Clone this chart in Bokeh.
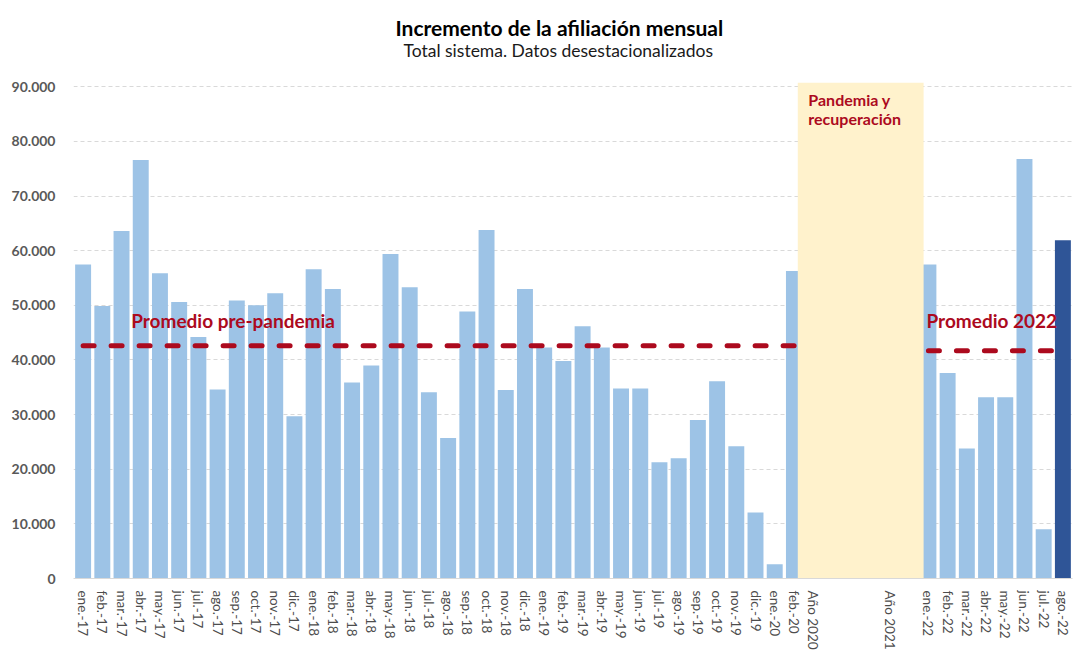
from bokeh.plotting import figure
from bokeh.models import FactorRange, Range1d, FixedTicker, Label, Title
from bokeh.embed import file_html
from bokeh.resources import INLINE

# ---- data ----
months_pre = ["ene.-17", "feb.-17", "mar.-17", "abr.-17", "may.-17", "jun.-17", "jul.-17",
              "ago.-17", "sep.-17", "oct.-17", "nov.-17", "dic.-17",
              "ene.-18", "feb.-18", "mar.-18", "abr.-18", "may.-18", "jun.-18", "jul.-18",
              "ago.-18", "sep.-18", "oct.-18", "nov.-18", "dic.-18",
              "ene.-19", "feb.-19", "mar.-19", "abr.-19", "may.-19", "jun.-19", "jul.-19",
              "ago.-19", "sep.-19", "oct.-19", "nov.-19", "dic.-19",
              "ene.-20", "feb.-20"]
values_pre = [57500, 49900, 63600, 76600, 55900, 50600, 44200, 34600, 50900, 50000, 52200, 29700,
              56600, 53000, 35900, 39000, 59400, 53300, 34100, 25700, 48900, 63800, 34500, 53000,
              42300, 39800, 46200, 42300, 34800, 34800, 21300, 22000, 29000, 36100, 24200, 12100,
              2600, 56300]
pandemic_labels = ["Año 2020", " ", "  ", "   ", "Año 2021", "    "]
months_2022 = ["ene.-22", "feb.-22", "mar.-22", "abr.-22", "may.-22", "jun.-22", "jul.-22", "ago.-22"]
values_2022 = [57500, 37600, 23800, 33200, 33200, 76800, 9000, 61900]
avg_pre = 42600
avg_2022 = 41700
y_ticks = [0, 10000, 20000, 30000, 40000, 50000, 60000, 70000, 80000, 90000]
y_tick_labels = ["0", "10.000", "20.000", "30.000", "40.000", "50.000",
                 "60.000", "70.000", "80.000", "90.000"]
title_text = "Incremento de la afiliación mensual"
subtitle_text = "Total sistema. Datos desestacionalizados"

factors = months_pre + pandemic_labels + months_2022
Y_END = 90800

RED = "#AC0A1E"
LIGHT = "#9DC3E6"
DARK = "#2F5597"
FONT = "Lato"

def pos(f):
    return factors.index(f) + 0.5

p = figure(x_range=FactorRange(factors=factors, range_padding=0, factor_padding=0),
           y_range=Range1d(0, Y_END),
           width=1082, height=652, output_backend="svg", toolbar_location=None,
           min_border_left=73, min_border_right=10, min_border_top=0,
           min_border_bottom=74)
p.outline_line_color = None
p.background_fill_color = "white"

# titles: first added sits closest to the plot
p.add_layout(Title(text=" ", text_font=FONT, text_font_size="10px", standoff=6), "above")
p.add_layout(Title(text=subtitle_text, align="left", vertical_align="top", offset=330,
                   text_font=FONT, text_font_size="17.5px", text_font_style="normal",
                   text_color="#1a1a1a", standoff=0), "above")
p.add_layout(Title(text=title_text, align="left", vertical_align="bottom", offset=322,
                   text_font=FONT, text_font_size="21px", text_font_style="bold",
                   text_color="#000000", standoff=0), "above")
p.add_layout(Title(text=" ", text_font=FONT, text_font_size="6px", standoff=3), "above")

# bars
light_x = months_pre + months_2022[:-1]
light_y = values_pre + values_2022[:-1]
p.vbar(x=light_x, top=light_y, width=0.83, color=LIGHT, line_color=None)

# average lines
p.line(x=[pos(months_pre[0]), pos(pandemic_labels[0])], y=[avg_pre, avg_pre],
       line_color=RED, line_width=5, line_dash="11 17", line_cap="round")
p.line(x=[pos(months_2022[0]), pos(months_2022[-1])], y=[avg_2022, avg_2022],
       line_color=RED, line_width=5, line_dash="11 17", line_cap="round")

# highlighted last bar
p.vbar(x=[months_2022[-1]], top=[values_2022[-1]], width=0.83, color=DARK, line_color=None)

# pandemic shade
p.quad(left=[pos(months_pre[-1]) + 0.2], right=[pos(months_2022[0]) - 0.25],
       bottom=[0], top=[Y_END], color="#FFF2CC", line_color=None)

p.add_layout(Label(x=pos(months_pre[-1]) + 0.75, y=Y_END - 1300, text="Pandemia y\nrecuperación",
                   text_font=FONT, text_font_size="16px", text_font_style="bold",
                   text_color=RED, text_baseline="top", text_align="left", text_line_height=1.0))
p.add_layout(Label(x=3.0, y=avg_pre + 4700, text="Promedio pre-pandemia",
                   text_font=FONT, text_font_size="19px", text_font_style="bold",
                   text_color=RED, text_baseline="middle", text_align="left"))
p.add_layout(Label(x=pos(months_2022[0]) - 0.1, y=avg_2022 + 5600, text="Promedio 2022",
                   text_font=FONT, text_font_size="19px", text_font_style="bold",
                   text_color=RED, text_baseline="middle", text_align="left"))

# axes
p.yaxis.ticker = FixedTicker(ticks=y_ticks)
p.yaxis.major_label_overrides = {t: l for t, l in zip(y_ticks, y_tick_labels)}
p.yaxis.axis_line_color = None
p.yaxis.major_tick_line_color = None
p.yaxis.minor_tick_line_color = None
p.yaxis.major_label_standoff = 12
p.yaxis.major_label_text_font = FONT
p.yaxis.major_label_text_font_size = "14px"
p.yaxis.major_label_text_font_style = "bold"
p.yaxis.major_label_text_color = "#595959"

p.xaxis.axis_line_color = "#D9D9D9"
p.xaxis.major_tick_line_color = None
p.xaxis.minor_tick_line_color = None
p.xaxis.major_label_orientation = "vertical"
p.xaxis.major_label_standoff = 6
p.xaxis.major_label_text_font = FONT
p.xaxis.major_label_text_font_size = "13.5px"
p.xaxis.major_label_text_color = "#4d4d4d"

p.xgrid.grid_line_color = None
p.ygrid.grid_line_color = "#D9D9D9"
p.ygrid.grid_line_dash = "4 3"
p.ygrid.grid_line_width = 1

open("out.html", "w").write(file_html(p, INLINE))
